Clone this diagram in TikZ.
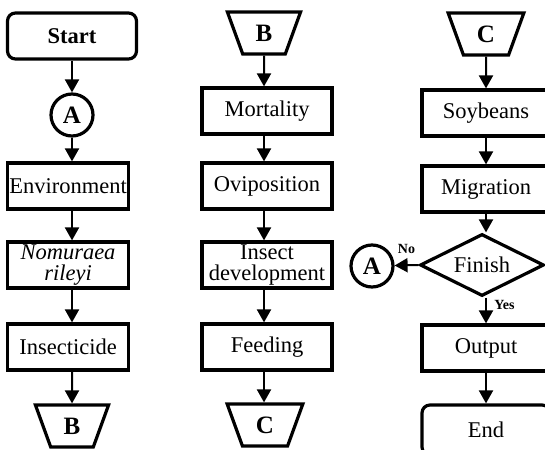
\documentclass[tikz,border=0pt]{standalone}
\usepackage{fontspec}
\setmainfont{Liberation Serif}
\usepackage{tikz}
\usetikzlibrary{arrows.meta,shapes.geometric}

\begin{document}
\begin{tikzpicture}[x=1pt,y=-1pt, line width=3.2pt,
    every node/.style={font=\fontsize{22.5}{21.5}\selectfont},
    box/.style={draw, rectangle, inner sep=0pt, minimum height=46pt, align=center},
    term/.style={box, rounded corners=8pt},
    conn/.style={draw, circle, minimum size=42pt, inner sep=0pt, font=\fontsize{25}{20}\selectfont\bfseries},
    page/.style={draw, trapezium, shape border rotate=180, trapezium angle=70,
        minimum width=58pt, minimum height=42pt, inner sep=0pt,
        font=\fontsize{25}{20}\selectfont\bfseries},
    test/.style={draw, diamond, aspect=2, minimum width=124pt, minimum height=62pt, inner sep=0pt},
    flow/.style={line width=2pt, -{Triangle[length=13pt,width=14pt]}},
    tag/.style={font=\fontsize{14}{14}\selectfont\bfseries}]
    \useasboundingbox (0,0) rectangle (545,449);

    % First column
    \node[term, minimum width=129pt, font=\fontsize{22.5}{20}\selectfont\bfseries] (start) at (72,36) {Start};
    \node[conn] (a1) at (72,115) {A};
    \node[box, minimum width=121pt] (env) at (68,186) {Environment};
    \node[box, minimum width=121pt, font=\fontsize{22.5}{21.5}\selectfont\itshape] (nom) at (68,265) {Nomuraea\\rileyi};
    \node[box, minimum width=121pt] (ins) at (68,347) {Insecticide};
    \node[page] (b1) at (72,426) {B};

    % Second column
    \node[page] (b2) at (264,33) {B};
    \node[box, minimum width=130pt] (mort) at (267,111) {Mortality};
    \node[box, minimum width=130pt] (ovi) at (267,186) {Oviposition};
    \node[box, minimum width=130pt] (dev) at (267,265) {Insect\\development};
    \node[box, minimum width=130pt] (feed) at (267,347) {Feeding};
    \node[page] (c1) at (265,425) {C};

    % Third column
    \node[page] (c2) at (486,34) {C};
    \node[box, minimum width=128pt] (soy) at (486,113) {Soybeans};
    \node[box, minimum width=128pt] (mig) at (486,189) {Migration};
    \node[test] (fin) at (482,265) {Finish};
    \node[conn] (a2) at (372,266) {A};
    \node[box, minimum width=128pt] (out) at (486,348) {Output};
    \node[term, minimum width=128pt, minimum height=50pt] (stop) at (486,430) {End};

    % Connectors
    \draw[flow] (start) -- (a1);
    \draw[flow] (a1) -- (a1 |- env.north);
    \draw[flow] (env.south -| a1) -- (a1 |- nom.north);
    \draw[flow] (nom.south -| a1) -- (a1 |- ins.north);
    \draw[flow] (ins.south -| a1) -- (b1);
    \draw[flow] (b2) -- (b2 |- mort.north);
    \draw[flow] (mort.south -| b2) -- (b2 |- ovi.north);
    \draw[flow] (ovi.south -| b2) -- (b2 |- dev.north);
    \draw[flow] (dev.south -| b2) -- (b2 |- feed.north);
    \draw[flow] (feed.south -| b2) -- (b2 |- c1.north);
    \draw[flow] (c2) -- (c2 |- soy.north);
    \draw[flow] (soy.south -| c2) -- (c2 |- mig.north);
    \draw[flow] (mig.south -| c2) -- (c2 |- fin.north);
    \draw[flow] (fin.south -| c2) -- (c2 |- out.north) node[tag, pos=0.3, right=4pt] {Yes};
    \draw[flow] (fin.west) -- (a2) node[tag, midway, above=7pt] {No};
    \draw[flow] (out.south -| c2) -- (c2 |- stop.north);
\end{tikzpicture}
\end{document}
